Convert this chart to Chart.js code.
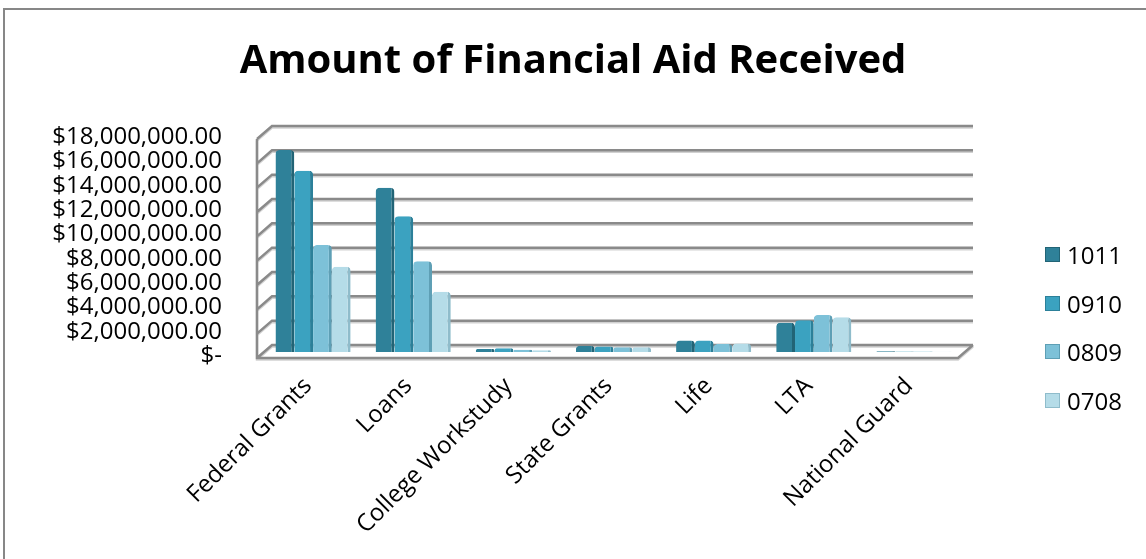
<!DOCTYPE html>
<html>
<head>
<meta charset="utf-8">
<title>Amount of Financial Aid Received</title>
<script src="https://cdn.jsdelivr.net/npm/chart.js@4.4.1/dist/chart.umd.min.js"></script>
<style>
  html, body { margin: 0; padding: 0; background: #fff; }
  #wrap { position: relative; width: 1146px; height: 559px; overflow: hidden; }
  #frame { position: absolute; left: 3px; top: 8px; width: 1200px; height: 600px;
           border-left: 2px solid #878787; border-top: 2px solid #878787; }
  canvas { position: absolute; left: 0; top: 0; }
  #legend { position: absolute; left: 1045px; top: 230px; font-family: 'Open Sans', sans-serif; font-size: 24px; color: #000; }
  .legend-item { height: 48.7px; display: flex; align-items: center; }
  .legend-item__box { width: 13px; height: 13px; border: 1px solid; margin-right: 7px; }
</style>
</head>
<body>
<div id="wrap">
  <div id="frame"></div>
  <canvas id="aidChart" width="1146" height="559"></canvas>
  <div id="legend"></div>
</div>
<script>
// DATA
const categories = ['Federal Grants', 'Loans', 'College Workstudy', 'State Grants', 'Life', 'LTA', 'National Guard'];
const years = ['1011', '0910', '0809', '0708'];
const aid1011 = [16600000, 13500000, 250000, 500000, 950000, 2400000, 60000];
const aid0910 = [14900000, 11150000, 300000, 450000, 950000, 2600000, 50000];
const aid0809 = [8800000, 7450000, 180000, 400000, 650000, 3050000, 40000];
const aid0708 = [7000000, 4950000, 150000, 400000, 700000, 2850000, 30000];
const axisMax = 18000000;
const axisStep = 2000000;

const fills = ['#2f8199', '#3ba2c0', '#7dc1d8', '#b5dce8'];
const sides = ['#226476', '#2c8099', '#5e9fb5', '#8fbccb'];
const fontName = 'Open Sans';

// WALL 3D - back wall, side wall and floor behind the bars
const FRONT = {dx: -6, dy: 6};
const BACK = {dx: 9, dy: -7};
const wall3d = {
  id: 'wall3d',
  beforeDatasetsDraw(chart) {
    const {ctx, chartArea: a, scales: {y}} = chart;
    const base = y.getPixelForValue(0);
    const top = y.getPixelForValue(y.max);
    ctx.save();
    ctx.strokeStyle = '#8a8a8a';
    ctx.lineWidth = 2.5;
    ctx.shadowColor = 'rgba(0,0,0,0.18)';
    ctx.shadowOffsetY = 1.5;
    ctx.beginPath();
    y.ticks.forEach(t => {
      const py = y.getPixelForValue(t.value);
      ctx.moveTo(a.left + FRONT.dx, py + FRONT.dy);
      ctx.lineTo(a.left + BACK.dx, py + BACK.dy);
      ctx.lineTo(a.right + BACK.dx, py + BACK.dy);
    });
    ctx.moveTo(a.left + FRONT.dx, top + FRONT.dy);
    ctx.lineTo(a.left + FRONT.dx, base + FRONT.dy);
    ctx.lineTo(a.right + FRONT.dx, base + FRONT.dy);
    ctx.lineTo(a.right + BACK.dx, base + BACK.dy);
    ctx.stroke();
    ctx.restore();
  }
};

const seriesValues = [aid1011, aid0910, aid0809, aid0708];
const datasets = years.map((yr, i) => ({
  label: yr,
  data: seriesValues[i],
  backgroundColor: fills[i],
  borderColor: sides[i],
  borderWidth: {top: 0, left: 0, right: 3, bottom: 0},
  borderRadius: {topLeft: 4, topRight: 4},
  borderSkipped: 'bottom',
  categoryPercentage: 0.75,
  barPercentage: 1
}));

function money(v) {
  if (v === 0) return '$-';
  return '$' + v.toLocaleString('en-US', {minimumFractionDigits: 2, maximumFractionDigits: 2});
}

const ctx = document.getElementById('aidChart');
const myChart = new Chart(ctx, {
  type: 'bar',
  data: { labels: categories, datasets },
  plugins: [wall3d],
  options: {
    responsive: false,
    animation: false,
    layout: { padding: 0 },
    scales: {
      x: {
        grid: {display: false, drawTicks: false},
        border: {display: false},
        ticks: {
          font: {family: fontName, size: 24}, color: '#000',
          minRotation: 45, maxRotation: 45, autoSkip: false,
          padding: 20, labelOffset: -5
        },
        afterFit(s) { s.height = 207; }
      },
      y: {
        min: 0, max: axisMax,
        grid: {display: false, drawTicks: false},
        border: {display: false},
        ticks: {
          stepSize: axisStep, autoSkip: false, padding: 41, labelOffset: 4,
          font: {family: fontName, size: 24}, color: '#000',
          callback: v => money(v)
        },
        afterFit(s) { s.width = 263; }
      },
      // empty space on the right, kept free for the legend
      legendSpace: {
        type: 'linear', position: 'right',
        grid: {display: false, drawTicks: false},
        border: {display: false},
        ticks: {display: false},
        afterFit(s) { s.width = 182; }
      }
    },
    plugins: {
      title: {
        display: true,
        text: 'Amount of Financial Aid Received',
        color: '#000',
        font: {family: fontName, size: 40, weight: 'bold'},
        padding: {top: 38, bottom: 47}
      },
      legend: {display: false},
      tooltip: {enabled: false}
    }
  }
});

// LEGEND
const legendBox = document.getElementById('legend');
myChart.data.datasets.forEach(ds => {
  const item = document.createElement('div');
  item.className = 'legend-item';
  const box = document.createElement('span');
  box.className = 'legend-item__box';
  box.style.backgroundColor = ds.backgroundColor;
  box.style.borderColor = ds.borderColor;
  item.appendChild(box);
  item.appendChild(document.createTextNode(ds.label));
  legendBox.appendChild(item);
});
</script>
</body>
</html>
